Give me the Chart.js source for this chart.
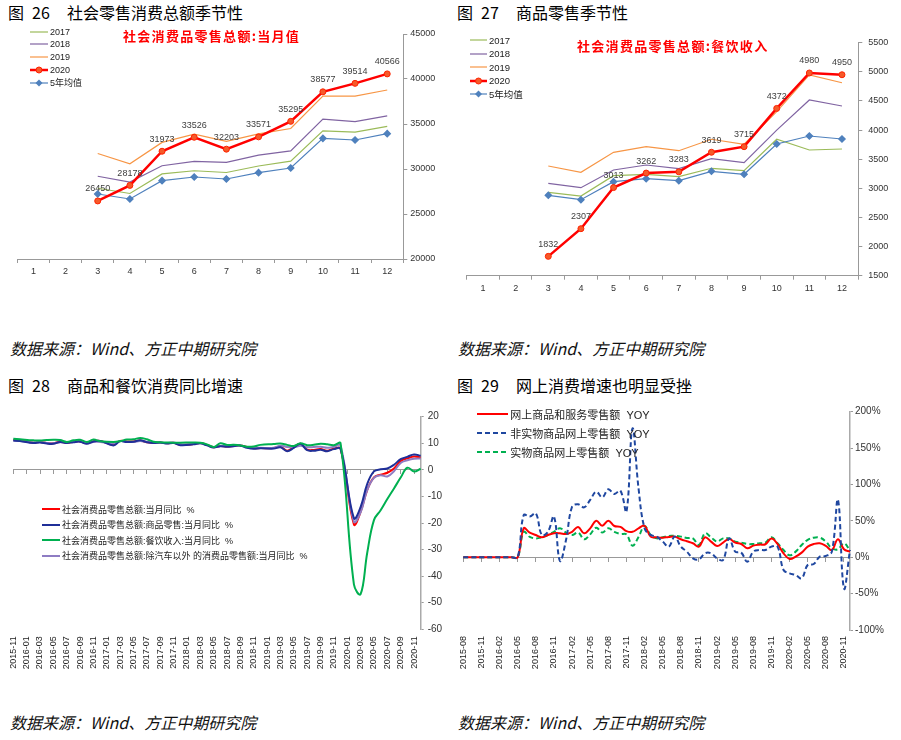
<!DOCTYPE html>
<html>
<head>
<meta charset="utf-8">
<script src="https://cdn.jsdelivr.net/npm/chart.js@4.4.0/dist/chart.umd.min.js"></script>
<style>
  body { margin: 0; background: #fff; width: 901px; height: 740px; position: relative; overflow: hidden;
         font-family: "Noto Sans CJK SC", sans-serif; color: #000; }
  .abs { position: absolute; white-space: pre; }
  .ttl { font-size: 16px; line-height: 16px; }
  .src { font-size: 16px; line-height: 16px; font-style: italic; color: #111; }
  .sub { font-size: 13px; line-height: 14px; font-weight: bold; color: #ff0000; letter-spacing: 1.3px; }
  canvas { position: absolute; }
  .lg { position: absolute; display: flex; align-items: center; height: 12px; white-space: pre;
        font-family: "Liberation Sans", "Noto Sans CJK SC", sans-serif; color: #222; }
  .lg span { margin-left: 2px; }
</style>
</head>
<body>

<div class="abs ttl" style="left:8px;top:4px">图</div>
<div class="abs ttl" style="left:32px;top:4px">26</div>
<div class="abs ttl" style="left:67px;top:4px">社会零售消费总额季节性</div>
<div class="abs ttl" style="left:457px;top:4px">图</div>
<div class="abs ttl" style="left:481px;top:4px">27</div>
<div class="abs ttl" style="left:516px;top:4px">商品零售季节性</div>
<div class="abs ttl" style="left:8px;top:377px">图</div>
<div class="abs ttl" style="left:32px;top:377px">28</div>
<div class="abs ttl" style="left:67px;top:377px">商品和餐饮消费同比增速</div>
<div class="abs ttl" style="left:457px;top:377px">图</div>
<div class="abs ttl" style="left:481px;top:377px">29</div>
<div class="abs ttl" style="left:516px;top:377px">网上消费增速也明显受挫</div>

<div class="abs src" style="left:10px;top:340px">数据来源：Wind、方正中期研究院</div>
<div class="abs src" style="left:458px;top:340px">数据来源：Wind、方正中期研究院</div>
<div class="abs src" style="left:10px;top:714px">数据来源：Wind、方正中期研究院</div>
<div class="abs src" style="left:458px;top:714px">数据来源：Wind、方正中期研究院</div>

<canvas id="c26" width="450" height="290" style="left:0px;top:20px"></canvas>
<canvas id="c27" width="451" height="290" style="left:450px;top:20px"></canvas>
<canvas id="c28" width="460" height="290" style="left:0px;top:395px"></canvas>
<canvas id="c29" width="451" height="290" style="left:450px;top:395px"></canvas>

<div class="abs sub" style="left:123px;top:29px">社会消费品零售总额:当月值</div>
<div class="abs sub" style="left:577px;top:39px">社会消费品零售总额:餐饮收入</div>

<script>
// ---- data: seasonal charts (months 1-12) ----
const monthNums = ['1','2','3','4','5','6','7','8','9','10','11','12'];

const retail2017 = [null, null, 27864, 27279, 29459, 29808, 29610, 30330, 30870, 34240, 34108, 34734];
const retail2018 = [null, null, 29194, 28542, 30359, 30842, 30734, 31542, 32005, 35534, 35260, 35893];
const retail2019 = [null, null, 31726, 30586, 32956, 33878, 33073, 33896, 34495, 38104, 38094, 38777];
const retail2020 = [null, null, 26450, 28178, 31973, 33526, 32203, 33571, 35295, 38577, 39514, 40566];
const retailAvg5 = [null, null, 27222, 26667, 28704, 29111, 28889, 29593, 30111, 33407, 33222, 33926];

const cater2017 = [null, null, 2932, 2868, 3217, 3241, 3200, 3344, 3303, 3842, 3658, 3675];
const cater2018 = [null, null, 3086, 3011, 3315, 3400, 3337, 3509, 3440, 4000, 4516, 4413];
const cater2019 = [null, null, 3383, 3275, 3618, 3715, 3646, 3842, 3756, 4317, 4946, 4813];
const cater2020 = [null, null, 1832, 2307, 3013, 3262, 3283, 3619, 3715, 4372, 4980, 4950];
const caterAvg5 = [null, null, 2880, 2805, 3114, 3165, 3131, 3292, 3241, 3761, 3898, 3847];

// ---- data: YoY, monthly 2015-11 .. 2020-12 (January not published) ----
const retailYoy = [11.2, 11.1,
  null, 10.2, 10.5, 10.1, 10.0, 10.6, 10.2, 10.6, 10.7, 10.0, 10.8, 10.9,
  null, 9.5, 10.9, 10.7, 10.7, 11.0, 10.4, 10.1, 10.3, 10.0, 10.2, 9.4,
  null, 9.7, 10.1, 9.4, 8.5, 9.0, 8.8, 9.0, 9.2, 8.6, 8.1, 8.2,
  null, 8.2, 8.7, 7.2, 8.6, 9.8, 7.6, 7.5, 7.8, 7.2, 8.0, 8.0,
  null, -20.5, -15.8, -7.5, -2.8, -1.8, -1.1, 0.5, 3.3, 4.3, 5.0, 4.6];
const goodsYoy = [11.0, 10.9,
  null, 10.1, 10.3, 9.9, 9.8, 10.5, 10.1, 10.4, 10.6, 9.8, 10.7, 10.9,
  null, 9.2, 10.8, 10.5, 10.6, 11.1, 10.4, 10.1, 10.3, 9.9, 10.1, 9.3,
  null, 9.6, 10.0, 9.2, 8.4, 8.9, 8.7, 8.9, 9.1, 8.3, 7.9, 8.1,
  null, 8.0, 8.5, 7.0, 8.3, 9.8, 7.4, 7.2, 7.6, 7.0, 7.8, 7.9,
  null, -18.2, -14.0, -5.3, -0.6, 0.2, 0.5, 1.9, 4.0, 4.9, 5.8, 5.3];
const cateringYoy = [11.7, 11.5,
  null, 11.1, 11.0, 11.2, 11.3, 11.2, 10.5, 11.1, 11.3, 10.5, 11.4, 10.8,
  null, 10.5, 10.8, 11.4, 11.5, 12.0, 11.5, 10.6, 10.4, 10.3, 10.2, 10.2,
  null, 10.3, 10.2, 9.6, 8.6, 10.0, 9.4, 9.4, 9.2, 8.7, 8.8, 9.4,
  null, 9.7, 9.9, 9.4, 9.0, 10.0, 9.3, 9.4, 9.8, 9.6, 9.3, 10.0,
  null, -43.1, -46.8, -31.1, -18.9, -15.2, -11.0, -7.0, -2.9, 0.8, -0.6, 0.4];
const exAutoYoy = [11.0, 10.9,
  null, 10.3, 10.5, 10.1, 10.0, 10.4, 10.3, 10.6, 10.7, 10.1, 10.5, 10.5,
  null, 9.9, 10.8, 10.5, 10.5, 10.9, 10.5, 10.3, 10.2, 10.1, 10.3, 9.6,
  null, 9.8, 10.0, 9.3, 8.6, 9.0, 9.1, 9.2, 9.3, 8.5, 8.4, 8.3,
  null, 8.3, 9.1, 8.6, 8.5, 9.1, 8.5, 8.6, 8.7, 8.3, 8.7, 9.2,
  null, -19.5, -16.0, -7.5, -3.0, -2.0, -2.5, -0.5, 2.6, 3.6, 4.2, 4.3];

// ---- data: online retail YoY %, monthly 2015-08 .. 2020-12 ----
const onlineTotal = [0, 0, 0, 0, 0, 0, 0, 0, 0, 0,
  39.8, 33.8, 30.6, 27.5, 30.6, 33, 33, 32, 35, 41.6, 33, 39.8, 50.3, 43.4, 50.3, 43, 41.7, 36, 35, 39.8, 43.4,
  28.4, 27.5, 27, 28, 28.4, 24.8, 22, 19.3, 14.7, 27.5, 21.6, 15.6, 20.2, 25.2, 20.2, 18.3, 12.4, 16, 17.4,
  17.9, 25.7, 18.3, 5.5, -2.3, 0.9, 6.4, 14.7, 18.3, 19.3, 15.6, 10, 24.8, 11, 7.8];
const onlineNonPhysical = [0, 0, 0, 0, 0, 0, 0, 0, 0, 0,
  58, 56, 60.4, 30.6, 35, 56, -5, 23.8, 69.5, 72.8, 68.7, 78.8, 90, 82.4, 93.4, 87, 91.5, 62.7, 177, 94.8, 39.8,
  30.7, 28.4, 21.6, 14.7, 28.4, 14.7, 7.8, -1.4, -2.8, 5.5, 5.5, -1.4, -3.7, 26, 7.8, 6.4, -6, 7.8, 10,
  10, 14.7, 14.7, -17.4, -22, -24.3, -28.9, -10.6, -9.2, 0.9, 1.8, 7.8, 78.9, -42.7, 10];
const onlinePhysical = [0, 0, 0, 0, 0, 0, 0, 0, 0, 0,
  35, 28, 26, 27.4, 30.6, 35, 40, 34, 30.6, 34, 24.7, 31.5, 40.7, 34, 40, 35, 32, 31.5, 16, 28, 43,
  30.7, 26, 27.5, 29.4, 29.4, 28.4, 26.6, 26, 17, 33, 27.5, 21.6, 26, 26, 21.6, 20.2, 18.3, 18.3, 19.3,
  20.2, 27.5, 19.3, 10, 2.8, 7.8, 17, 23.9, 27, 27, 21.6, 12.4, 11, 19.3, 9];

function monthRange(year, month, n) {
  const out = [];
  for (let k = 0; k < n; k++) {
    const m = (month - 1 + k) % 12 + 1;
    const y = year + Math.floor((month - 1 + k) / 12);
    out.push(y + '-' + String(m).padStart(2, '0'));
  }
  return out;
}
const yoyMonths = monthRange(2015, 11, retailYoy.length);
const onlineMonths = monthRange(2015, 8, onlineTotal.length);

// ---- shared look ----
Chart.defaults.font.family = '"Liberation Sans", "Noto Sans CJK SC", sans-serif';
Chart.defaults.font.size = 9;
Chart.defaults.color = '#333';
const axisGrey = '#999999';
const noColor = 'rgba(0,0,0,0)';

// value labels above the 2020 points
const valueLabels = {
  id: 'valueLabels',
  afterDatasetsDraw(chart, args, opts) {
    const ds = chart.data.datasets[opts.dataset];
    const meta = chart.getDatasetMeta(opts.dataset);
    const ctx = chart.ctx;
    ctx.save();
    ctx.font = '9px "Liberation Sans"';
    ctx.fillStyle = '#404040';
    ctx.textAlign = 'center';
    ctx.textBaseline = 'middle';
    meta.data.forEach((pt, i) => {
      if (ds.data[i] == null) return;
      ctx.fillText(String(ds.data[i]), pt.x, pt.y - 12);
    });
    ctx.restore();
  }
};

function drawLegend(left, top, gap, lineW, fontSize, datasets, order) {
  order.forEach((idx, k) => {
    const ds = datasets[idx];
    const row = document.createElement('div');
    row.className = 'lg';
    row.style.left = left + 'px';
    row.style.top = (top + k * gap - 6) + 'px';
    row.style.fontSize = fontSize + 'px';
    const c = lineW / 2;
    const dash = ds.borderDash ? ` stroke-dasharray="${ds.borderDash.join(',')}"` : '';
    let mark = '';
    if (ds.pointRadius && ds.pointStyle === 'rectRot') {
      mark = `<path d="M${c} 2.5 L${c + 3.5} 6 L${c} 9.5 L${c - 3.5} 6Z" fill="${ds.pointBackgroundColor}"/>`;
    } else if (ds.pointRadius) {
      mark = `<circle cx="${c}" cy="6" r="3" fill="${ds.pointBackgroundColor}" stroke="${ds.pointBorderColor}" stroke-width="1"/>`;
    }
    row.innerHTML = `<svg width="${lineW}" height="12"><line x1="0" y1="6" x2="${lineW}" y2="6" stroke="${ds.borderColor}" stroke-width="${ds.borderWidth}"${dash}/>${mark}</svg><span>${ds.label}</span>`;
    document.body.appendChild(row);
  });
}

function seasonalDatasets(d17, d18, d19, d20, avg) {
  return [
    { label: '2017', data: d17, borderColor: '#9BBB59', borderWidth: 1.2, pointRadius: 0, order: 2 },
    { label: '2018', data: d18, borderColor: '#8064A2', borderWidth: 1.2, pointRadius: 0, order: 2 },
    { label: '2019', data: d19, borderColor: '#F79646', borderWidth: 1.2, pointRadius: 0, order: 2 },
    { label: '2020', data: d20, borderColor: '#FF0000', borderWidth: 2.5, pointRadius: 3,
      pointBackgroundColor: '#F55A2A', pointBorderColor: '#FF2200', pointBorderWidth: 1, order: 0 },
    { label: '5年均值', data: avg, borderColor: '#4F81BD', borderWidth: 1.2, pointRadius: 3.2,
      pointStyle: 'rectRot', pointBackgroundColor: '#4F81BD', pointBorderColor: '#4F81BD', order: 1 }
  ];
}

function seasonalOptions(pad, xH, yW, min, max, step, tickPad) {
  return {
    responsive: false, animation: false, devicePixelRatio: 1,
    layout: { padding: { left: pad.left, top: pad.top, right: 0, bottom: 0 } },
    elements: { line: { tension: 0 } },
    plugins: { legend: { display: false }, tooltip: { enabled: false }, valueLabels: { dataset: 3 } },
    scales: {
      x: {
        offset: true,
        grid: { offset: true, drawOnChartArea: false, tickLength: 4, color: axisGrey },
        border: { color: axisGrey },
        ticks: { padding: 3 },
        afterFit: s => { s.height = xH; }
      },
      y: {
        position: 'right', min: min, max: max,
        grid: { drawOnChartArea: false, tickLength: 4, color: axisGrey },
        border: { color: axisGrey },
        ticks: { stepSize: step, padding: tickPad, callback: v => String(v) },
        afterFit: s => { s.width = yW; }
      }
    }
  };
}

// ---- 图26 ----
const ds26 = seasonalDatasets(retail2017, retail2018, retail2019, retail2020, retailAvg5);
new Chart(document.getElementById('c26'), {
  type: 'line',
  data: { labels: monthNums, datasets: ds26 },
  options: seasonalOptions({ left: 17.3, top: 14 }, 51, 46.7, 20000, 45000, 5000, 3),
  plugins: [valueLabels]
});
drawLegend(30, 31.7, 12.75, 18, 9, ds26, [0, 1, 2, 3, 4]);

// ---- 图27 ----
const ds27 = seasonalDatasets(cater2017, cater2018, cater2019, cater2020, caterAvg5);
new Chart(document.getElementById('c27'), {
  type: 'line',
  data: { labels: monthNums, datasets: ds27 },
  options: seasonalOptions({ left: 16.7, top: 22.7 }, 34.3, 42.7, 1500, 5500, 500, 6),
  plugins: [valueLabels]
});
drawLegend(470, 40, 13.6, 17, 9.5, ds27, [0, 1, 2, 3, 4]);

// ---- time series options ----
function seriesOptions(pad, xH, yW, min, max, step, labels, every, fmt, tickPad, labelPad) {
  return {
    responsive: false, animation: false, devicePixelRatio: 1,
    layout: { padding: { left: pad.left, top: pad.top, right: 0, bottom: 0 } },
    elements: { line: { tension: 0.4 }, point: { radius: 0 } },
    plugins: { legend: { display: false }, tooltip: { enabled: false } },
    scales: {
      x: {
        grid: { display: false, drawTicks: false },
        border: { display: false },
        ticks: { autoSkip: false, maxRotation: 90, minRotation: 90, padding: labelPad, color: '#222',
                 callback: (v, i) => (i % every === 0 ? labels[i] : '') },
        afterFit: s => { s.height = xH; }
      },
      x2: {
        axis: 'x', type: 'category', labels: labels, position: { y: 0 },
        ticks: { display: false },
        grid: { drawOnChartArea: false, tickLength: 4,
                color: c => (c.index % every === 0 ? axisGrey : noColor) },
        border: { color: axisGrey },
        afterFit: s => { s.height = 0; }
      },
      y: {
        position: 'right', min: min, max: max,
        grid: { drawOnChartArea: false, tickLength: 3, color: axisGrey },
        border: { color: '#AAAAAA', width: 1.5 },
        ticks: { stepSize: step, padding: tickPad, font: { size: 10 }, callback: fmt },
        afterFit: s => { s.width = yW; }
      }
    }
  };
}

// ---- 图28 ----
const ds28 = [
  { label: '社会消费品零售总额:当月同比  %', data: retailYoy, borderColor: '#FF0000', borderWidth: 2, spanGaps: true, order: 3 },
  { label: '社会消费品零售总额:商品零售:当月同比  %', data: goodsYoy, borderColor: '#1F2F98', borderWidth: 2, spanGaps: true, order: 1 },
  { label: '社会消费品零售总额:餐饮收入:当月同比  %', data: cateringYoy, borderColor: '#00B050', borderWidth: 2, spanGaps: true, order: 0 },
  { label: '社会消费品零售总额:除汽车以外 的消费品零售额:当月同比  %', data: exAutoYoy, borderColor: '#8E7CC3', borderWidth: 2, spanGaps: true, order: 2 }
];
new Chart(document.getElementById('c28'), {
  type: 'line',
  data: { labels: yoyMonths, datasets: ds28 },
  options: seriesOptions({ left: 13.3, top: 21.7 }, 55.7, 39.3, -60, 20, 10, yoyMonths, 2, v => String(v), 4, 7)
});
drawLegend(41.7, 509.3, 15.4, 18.3, 9, ds28, [0, 1, 2, 3]);

// ---- 图29 ----
const ds29 = [
  { label: '网上商品和服务零售额  YOY', data: onlineTotal, borderColor: '#FF0000', borderWidth: 2, order: 1 },
  { label: '非实物商品网上零售额  YOY', data: onlineNonPhysical, borderColor: '#1F47A0', borderWidth: 2, borderDash: [5, 3], order: 0 },
  { label: '实物商品网上零售额  YOY', data: onlinePhysical, borderColor: '#00B050', borderWidth: 2, borderDash: [5, 3], order: 2 }
];
new Chart(document.getElementById('c29'), {
  type: 'line',
  data: { labels: onlineMonths, datasets: ds29 },
  options: seriesOptions({ left: 13.3, top: 16.7 }, 54.9, 51, -100, 200, 50, onlineMonths, 3, v => v + '%', 2, 6)
});
drawLegend(476.7, 414.3, 19, 31.6, 11, ds29, [0, 1, 2]);
</script>
</body>
</html>
